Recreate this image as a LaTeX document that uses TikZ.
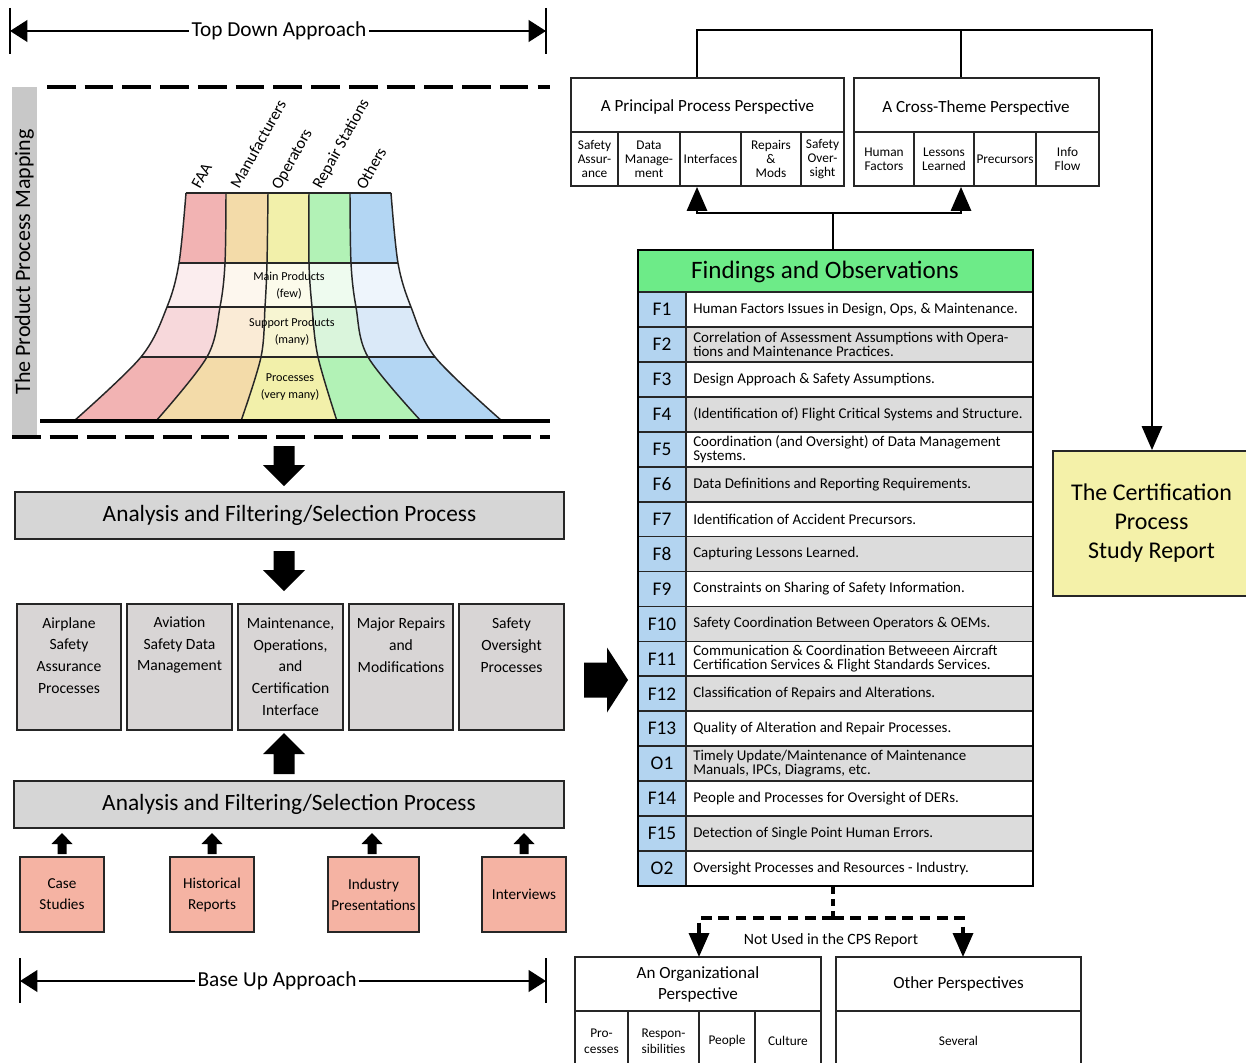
\documentclass[tikz,border=0pt]{standalone}
\usepackage{fontspec}
\setmainfont{Carlito}
\usetikzlibrary{arrows.meta,calc}
\definecolor{faaA}{HTML}{F2B3B3}\definecolor{faaB}{HTML}{FBEDEE}\definecolor{faaC}{HTML}{F7D8DB}
\definecolor{manA}{HTML}{F3DBA9}\definecolor{manB}{HTML}{FDF7EE}\definecolor{manC}{HTML}{FAEBD6}
\definecolor{opA}{HTML}{F2F0AA}\definecolor{opB}{HTML}{FCFBEB}\definecolor{opC}{HTML}{F7F5D2}
\definecolor{repA}{HTML}{B2F2B6}\definecolor{repB}{HTML}{EEFBEF}\definecolor{repC}{HTML}{DAF5DC}
\definecolor{othA}{HTML}{B3D6F3}\definecolor{othB}{HTML}{EEF5FC}\definecolor{othC}{HTML}{DAE9F8}
\definecolor{barg}{HTML}{C8C8C8}
\definecolor{anag}{HTML}{D6D6D6}
\definecolor{boxg}{HTML}{D8D5D5}
\definecolor{salm}{HTML}{F5B3A3}
\definecolor{lblue}{HTML}{B3D4F0}
\definecolor{fgreen}{HTML}{6DEB88}
\definecolor{rowg}{HTML}{DCDCDC}
\definecolor{certy}{HTML}{F4F1A9}
\newcommand\funnelcol[5]{%
  \begin{scope}
    \clip plot[smooth,tension=0.55] coordinates {#1} -- plot[smooth,tension=0.55] coordinates {#2} -- cycle;
    \fill[#3] (0,190) rectangle (600,263);
    \fill[#4] (0,263) rectangle (600,307);
    \fill[#5] (0,307) rectangle (600,357);
    \fill[#3] (0,357) rectangle (600,425);
  \end{scope}}
\newcommand\findrow[4]{%
  \pgfmathsetmacro\rowmid{309.47+#1*34.94}%
  \node[bx, fill=lblue, sz={48}{34.94}, font=\fontsize{14.5}{15}\selectfont] (L#1) at (662,\rowmid) {#2};
  \node[bx, fill=#4, sz={347}{34.94}] (R#1) at (859.5,\rowmid) {};
  \node[ftxt, anchor=west] (RT#1) at (693,\rowmid) {#3};
}
\begin{document}
\begin{tikzpicture}[x=0.75pt,y=-0.75pt,
  sz/.style 2 args={minimum width=#1*0.75pt, minimum height=#2*0.75pt, inner sep=0pt},
  bx/.style={draw=black!85, line width=1.3pt},
  conn/.style={line width=2.2pt, draw=black, line join=miter},
  bigtip/.style={-{Triangle[length=18pt,width=15pt]}},
  arrline/.style={line width=2.2pt, -{Triangle[length=13pt,width=16pt]}},
  dashline/.style={line width=3pt, dash pattern=on 21.5pt off 6.8pt},
  fline/.style={line width=1.1pt, black!85},
  ftxt/.style={inner sep=0pt, align=left, font=\fontsize{11.2}{10.6}\selectfont},
  bigfont/.style={font=\fontsize{16}{18}\selectfont},
  anafont/.style={font=\fontsize{17.5}{20}\selectfont},
  gfont/.style={align=center, inner sep=0pt, font=\fontsize{11.7}{16.3}\selectfont},
  sfont/.style={align=center, inner sep=0pt, font=\fontsize{11.4}{15.8}\selectfont},
  subfont/.style={align=center, inner sep=0pt, font=\fontsize{10}{10.5}\selectfont},
  hfont/.style={align=center, inner sep=0pt, font=\fontsize{12.8}{15.8}\selectfont},
  funfont/.style={align=center, inner sep=0pt, font=\fontsize{9.1}{12.7}\selectfont},
  rotfont/.style={rotate=61, anchor=base west, inner sep=0pt, font=\fontsize{12.3}{14}\selectfont},
  bigdown/.pic={\fill[black] (0,0)--(-21,-21)--(-10.5,-21)--(-10.5,-40)--(10.5,-40)--(10.5,-21)--(21,-21)--cycle;},
  bigup/.pic={\fill[black] (0,0)--(-21,21)--(-10.5,21)--(-10.5,41)--(10.5,41)--(10.5,21)--(21,21)--cycle;},
  smallup/.pic={\fill[black] (0,0)--(-10.5,11)--(-4.5,11)--(-4.5,21)--(4.5,21)--(4.5,11)--(10.5,11)--cycle;},
  bigright/.pic={\fill[black] (0,0)--(-21,-32.5)--(-21,-17.5)--(-44,-17.5)--(-44,17.5)--(-21,17.5)--(-21,32.5)--cycle;}
]
\clip (0,0) rectangle (1246,1063);
\fill[white] (0,0) rectangle (1246,1063);

% ---------- Top down approach
\node[fill=white, inner sep=2pt, bigfont] (td) at (279,31) {Top Down Approach};
\coordinate (tdl) at (10,31);
\coordinate (tdr) at (546,31);
\draw[line width=0.8pt] (10,8) -- (10,54);
\draw[line width=0.8pt] (546,8) -- (546,54);
\draw[arrline] (td.west) -- (tdl);
\draw[arrline] (td.east) -- (tdr);

% ---------- Product process mapping
\node[fill=barg, sz={25}{350}] (bar) at (24.5,262) {};
\node[rotate=90, inner sep=0pt, font=\fontsize{16.5}{18}\selectfont] (bart) at (bar.center) {The Product Process Mapping};
\draw[dashline] (47,87) -- (550,87);
\draw[dashline] (12,437) -- (550,437);

\funnelcol{(186,193) (179,263) (167,307) (141,357) (74,421)}{(156,421) (207,357) (220,307) (225,263) (226,193)}{faaA}{faaB}{faaC}
\funnelcol{(226,193) (225,263) (220,307) (207,357) (156,421)}{(241,421) (261,357) (265,307) (267,263) (268,193)}{manA}{manB}{manC}
\funnelcol{(268,193) (267,263) (265,307) (261,357) (241,421)}{(337,421) (318,357) (312,307) (309,263) (309,193)}{opA}{opB}{opC}
\funnelcol{(309,193) (309,263) (312,307) (318,357) (337,421)}{(421,421) (368,357) (356,307) (351,263) (350,193)}{repA}{repB}{repC}
\funnelcol{(350,193) (351,263) (356,307) (368,357) (421,421)}{(502,421) (435,357) (411,307) (398,263) (391,193)}{othA}{othB}{othC}
\draw[fline] plot[smooth,tension=0.55] coordinates {(186,193) (179,263) (167,307) (141,357) (74,421)};
\draw[fline] plot[smooth,tension=0.55] coordinates {(226,193) (225,263) (220,307) (207,357) (156,421)};
\draw[fline] plot[smooth,tension=0.55] coordinates {(268,193) (267,263) (265,307) (261,357) (241,421)};
\draw[fline] plot[smooth,tension=0.55] coordinates {(309,193) (309,263) (312,307) (318,357) (337,421)};
\draw[fline] plot[smooth,tension=0.55] coordinates {(350,193) (351,263) (356,307) (368,357) (421,421)};
\draw[fline] plot[smooth,tension=0.55] coordinates {(391,193) (398,263) (411,307) (435,357) (502,421)};
\draw[fline] (186,193) -- (391,193);
\draw[fline] (179,263) -- (398,263);
\draw[fline] (167,307) -- (411,307);
\draw[fline] (141,357) -- (435,357);
\draw[line width=2.4pt] (40,421) -- (550,421);
\node[funfont] (mp) at (289,285.5) {Main Products\\(few)};
\node[funfont] (sp) at (292,332) {Support Products\\(many)};
\node[funfont] (pr) at (290,387.5) {Processes\\(very many)};
\node[rotfont] (faa) at (200,190) {FAA};
\node[rotfont] (man) at (239,190) {Manufacturers};
\node[rotfont] (ope) at (280,191) {Operators};
\node[rotfont] (rep) at (321,190) {Repair Stations};
\node[rotfont] (oth) at (365,191) {Others};

% ---------- Analysis 1
\pic at (284,486) {bigdown};
\node[bx, fill=anag, sz={549}{47}, anafont] (a1) at (289.5,515.5) {Analysis and Filtering/Selection Process};
\pic at (284,591) {bigdown};

% ---------- Five grey boxes
\node[bx, fill=boxg, sz={104}{126}] (g1) at (69,667) {};
\node[bx, fill=boxg, sz={105}{126}] (g2) at (179.5,667) {};
\node[bx, fill=boxg, sz={105}{126}] (g3) at (290.5,667) {};
\node[bx, fill=boxg, sz={104}{126}] (g4) at (401,667) {};
\node[bx, fill=boxg, sz={105}{126}] (g5) at (511.5,667) {};
\node[gfont] (g1t) at (69,655.5) {Airplane\\Safety\\Assurance\\Processes};
\node[gfont] (g2t) at (179.5,645) {Aviation\\Safety Data\\Management};
\node[gfont] (g3t) at (290.5,666.5) {Maintenance,\\Operations,\\and\\Certification\\Interface};
\node[gfont] (g4t) at (401,645) {Major Repairs\\and\\Modifications};
\node[gfont] (g5t) at (511.5,645) {Safety\\Oversight\\Processes};
\pic at (284,733) {bigup};

% ---------- Analysis 2
\node[bx, fill=anag, sz={550}{47}, anafont] (a2) at (289,804.5) {Analysis and Filtering/Selection Process};
\pic at (62,833) {smallup};
\pic at (212,833) {smallup};
\pic at (372,833) {smallup};
\pic at (524,833) {smallup};
\node[bx, fill=salm, sz={84}{75}, sfont] (s1) at (62,894.5) {Case\\Studies};
\node[bx, fill=salm, sz={84}{75}, sfont] (s2) at (212,894.5) {Historical\\Reports};
\node[bx, fill=salm, sz={91}{75}, sfont] (s3) at (373.5,894.5) {Industry\\Presentations};
\node[bx, fill=salm, sz={84}{75}, sfont] (s4) at (524,894.5) {Interviews};

% ---------- Base up approach
\node[fill=white, inner sep=2pt, bigfont] (bu) at (277,981) {Base Up Approach};
\coordinate (bul) at (20,981);
\coordinate (bur) at (546,981);
\draw[line width=0.8pt] (20,958) -- (20,1003);
\draw[line width=0.8pt] (546,958) -- (546,1003);
\draw[arrline] (bu.west) -- (bul);
\draw[arrline] (bu.east) -- (bur);

% ---------- Right arrow
\pic at (628,680) {bigright};

% ---------- Perspectives
\node[bx, fill=white, sz={273}{54}] (pp) at (707.5,105) {};
\node[hfont] (ppt) at (707.5,107) {A Principal Process Perspective};
\node[bx, sz={47}{54}, subfont] (pp1) at (594.5,159) {Safety\\Assur-\\ance};
\node[bx, sz={62}{54}, subfont] (pp2) at (649,159) {Data\\Manage-\\ment};
\node[bx, sz={61}{54}, subfont] (pp3) at (710.5,159) {Interfaces};
\node[bx, sz={60}{54}, subfont] (pp4) at (771,159) {Repairs\\\&\\Mods};
\node[bx, sz={43}{54}, subfont] (pp5) at (822.5,159) {Safety\\Over-\\sight};
\node[bx, fill=white, sz={245}{54}] (ct) at (976.5,105) {};
\node[hfont] (ctt) at (976,108) {A Cross-Theme Perspective};
\node[bx, sz={60}{54}, subfont] (ct1) at (884,159) {Human\\Factors};
\node[bx, sz={60}{54}, subfont] (ct2) at (944,159) {Lessons\\Learned};
\node[bx, sz={62}{54}, subfont] (ct3) at (1005,159) {Precursors};
\node[bx, sz={63}{54}, subfont] (ct4) at (1067.5,159) {Info\\Flow};

% ---------- Certification report
\node[bx, fill=certy, sz={197}{145}, align=center, font=\fontsize{18}{21.8}\selectfont] (cert) at (1151.5,523.5) {The Certification\\Process\\Study Report};

% ---------- Findings table
\node[bx, fill=fgreen, sz={395}{42}] (fo) at (835.5,271) {};
\node[inner sep=0pt, font=\fontsize{18.8}{20}\selectfont] (fot) at (825,272) {Findings and Observations};
\findrow{0}{F1}{Human Factors Issues in Design, Ops, \& Maintenance.}{white}
\findrow{1}{F2}{Correlation of Assessment Assumptions with Opera-\\tions and Maintenance Practices.}{rowg}
\findrow{2}{F3}{Design Approach \& Safety Assumptions.}{white}
\findrow{3}{F4}{(Identification of) Flight Critical Systems and Structure.}{rowg}
\findrow{4}{F5}{Coordination (and Oversight) of Data Management\\Systems.}{white}
\findrow{5}{F6}{Data Definitions and Reporting Requirements.}{rowg}
\findrow{6}{F7}{Identification of Accident Precursors.}{white}
\findrow{7}{F8}{Capturing Lessons Learned.}{rowg}
\findrow{8}{F9}{Constraints on Sharing of Safety Information.}{white}
\findrow{9}{F10}{Safety Coordination Between Operators \& OEMs.}{rowg}
\findrow{10}{F11}{Communication \& Coordination Betweeen Aircraft\\Certification Services \& Flight Standards Services.}{white}
\findrow{11}{F12}{Classification of Repairs and Alterations.}{rowg}
\findrow{12}{F13}{Quality of Alteration and Repair Processes.}{white}
\findrow{13}{O1}{Timely Update/Maintenance of Maintenance\\Manuals, IPCs, Diagrams, etc.}{rowg}
\findrow{14}{F14}{People and Processes for Oversight of DERs.}{white}
\findrow{15}{F15}{Detection of Single Point Human Errors.}{rowg}
\findrow{16}{O2}{Oversight Processes and Resources - Industry.}{white}
\draw[line width=2.2pt] (638,250) rectangle (1033,886);

% ---------- Top connectors
\coordinate (c1) at (697,30);
\coordinate (c2) at (961,30);
\coordinate (c3) at (1152,30);
\draw[conn, bigtip] (pp.north -| c1) -- (c1) -- (c3) -- (cert.north -| c3);
\draw[conn] (c2) -- (ct.north -| c2);
\coordinate (fj) at (833,213);
\draw[conn] (fo.north -| fj) -- (fj);
\draw[conn, bigtip] (fj) -| (pp3.south -| c1);
\draw[conn, bigtip] (fj) -| (ct2.south -| c2);

% ---------- Not used perspectives
\node[bx, fill=white, sz={246}{54}, hfont] (org) at (698,984) {An Organizational\\Perspective};
\node[bx, sz={53}{60}, subfont, font=\fontsize{10}{12}\selectfont] (o1) at (601.5,1041) {Pro-\\cesses};
\node[bx, sz={71}{60}, subfont, font=\fontsize{10}{12}\selectfont] (o2) at (663.5,1041) {Respon-\\sibilities};
\node[bx, sz={56}{60}, subfont] (o3) at (727,1041) {People};
\node[bx, sz={66}{60}, subfont] (o4) at (788,1041) {Culture};
\node[bx, fill=white, sz={245}{54}, hfont] (oth2) at (958.5,984) {Other Perspectives};
\node[bx, sz={245}{60}, subfont] (sev) at (958.5,1041) {Several};
\coordinate (bj) at (833,918);
\coordinate (oa) at (699,957);
\coordinate (ob) at (963,957);
\draw[line width=2.6pt, dash pattern=on 5pt off 4pt] (R16.south -| bj) -- (bj);
\draw[line width=2.6pt, dash pattern=on 8pt off 5pt, bigtip] (bj) -| (oa);
\draw[line width=2.6pt, dash pattern=on 8pt off 5pt, bigtip] (bj) -| (ob);
\node[inner sep=0pt, font=\fontsize{11.8}{14}\selectfont] (nu) at (831,940) {Not Used in the CPS Report};
\end{tikzpicture}
\end{document}
